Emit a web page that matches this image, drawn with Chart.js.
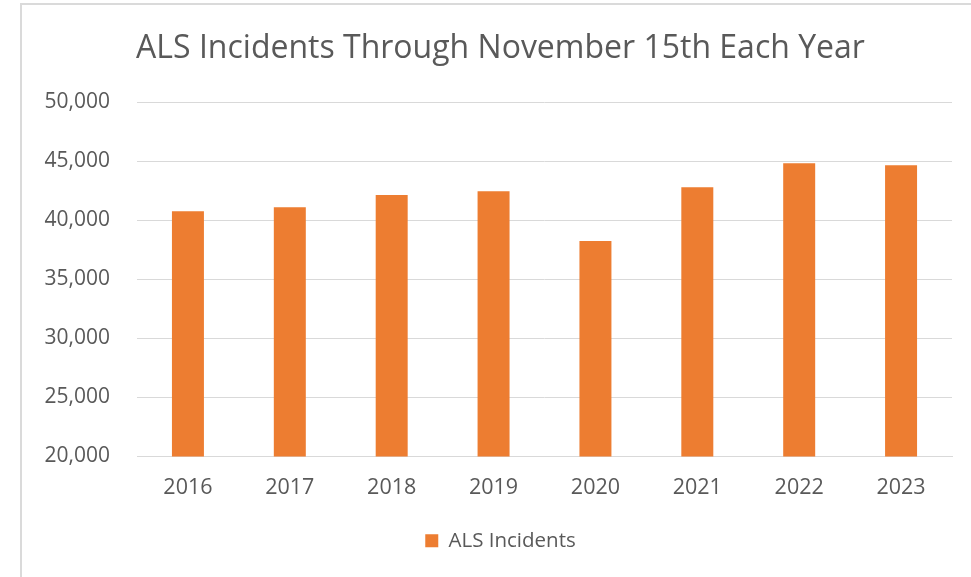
<!DOCTYPE html>
<html>
<head>
<meta charset="utf-8">
<script src="https://cdn.jsdelivr.net/npm/chart.js@4.4.1/dist/chart.umd.min.js"></script>
<style>
  html, body { margin: 0; padding: 0; background: #ffffff; }
  #wrap { position: relative; width: 971px; height: 577px; overflow: hidden; background: #fff; }
  #frame { position: absolute; left: 20px; top: 3px; width: 1000px; height: 700px;
           border-left: 2px solid #dadada; border-top: 2px solid #dadada; box-sizing: border-box; }
  #c { position: absolute; left: 0; top: 0; }
</style>
</head>
<body>
<div id="wrap">
  <div id="frame"></div>
  <canvas id="c" width="971" height="577"></canvas>
</div>
<script>
const chartTitle = "ALS Incidents Through November 15th Each Year";
const seriesName = "ALS Incidents";
const categories = ["2016", "2017", "2018", "2019", "2020", "2021", "2022", "2023"];
const alsIncidents = [40780, 41120, 42160, 42470, 38260, 42810, 44840, 44670];
const yTicks = [20000, 25000, 30000, 35000, 40000, 45000, 50000];

const FONT = "'Open Sans', 'Noto Sans', sans-serif";
const TEXT = "#595959";
const GRID = "#d9d9d9";
const BAR = "#ED7D31";

// Center the title and legend on the outer chart frame rather than the padded canvas area.
const frameCenter = {
  id: "frameCenter",
  afterLayout(chart) {
    const shift = 13;
    if (chart.titleBlock) chart.titleBlock.left += shift;
    if (chart.legend) chart.legend.left += shift;
  }
};

new Chart(document.getElementById("c"), {
  type: "bar",
  data: {
    labels: categories,
    datasets: [{
      label: seriesName,
      data: alsIncidents,
      backgroundColor: BAR,
      borderWidth: 0,
      categoryPercentage: 1,
      barPercentage: 0.314
    }]
  },
  plugins: [frameCenter],
  options: {
    responsive: false,
    animation: false,
    devicePixelRatio: 1,
    layout: { padding: { top: 0, left: 36, right: 19, bottom: 16 } },
    plugins: {
      title: {
        display: true,
        text: chartTitle,
        color: TEXT,
        font: { family: FONT, size: 32, weight: "normal" },
        padding: { top: 30, bottom: 34 }
      },
      legend: {
        display: true,
        position: "bottom",
        labels: {
          color: TEXT,
          font: { family: FONT, size: 20.5 },
          boxWidth: 13,
          boxHeight: 13,
          padding: 10
        }
      },
      tooltip: { enabled: false }
    },
    scales: {
      x: {
        grid: { display: false, drawTicks: false },
        border: { display: true, color: GRID, width: 1 },
        ticks: { color: TEXT, font: { family: FONT, size: 21.5 }, padding: 18, maxRotation: 0 },
        afterFit: (s) => { s.height = 64; }
      },
      y: {
        min: 20000,
        max: 50000,
        afterBuildTicks: (s) => { s.ticks = yTicks.map(v => ({ value: v })); },
        grid: { color: GRID, lineWidth: 1, drawTicks: false },
        border: { display: false },
        ticks: {
          color: TEXT,
          font: { family: FONT, size: 21 },
          padding: 27,
          callback: (v) => v.toLocaleString("en-US")
        },
        afterFit: (s) => { s.width = 101; }
      }
    }
  }
});
</script>
</body>
</html>
